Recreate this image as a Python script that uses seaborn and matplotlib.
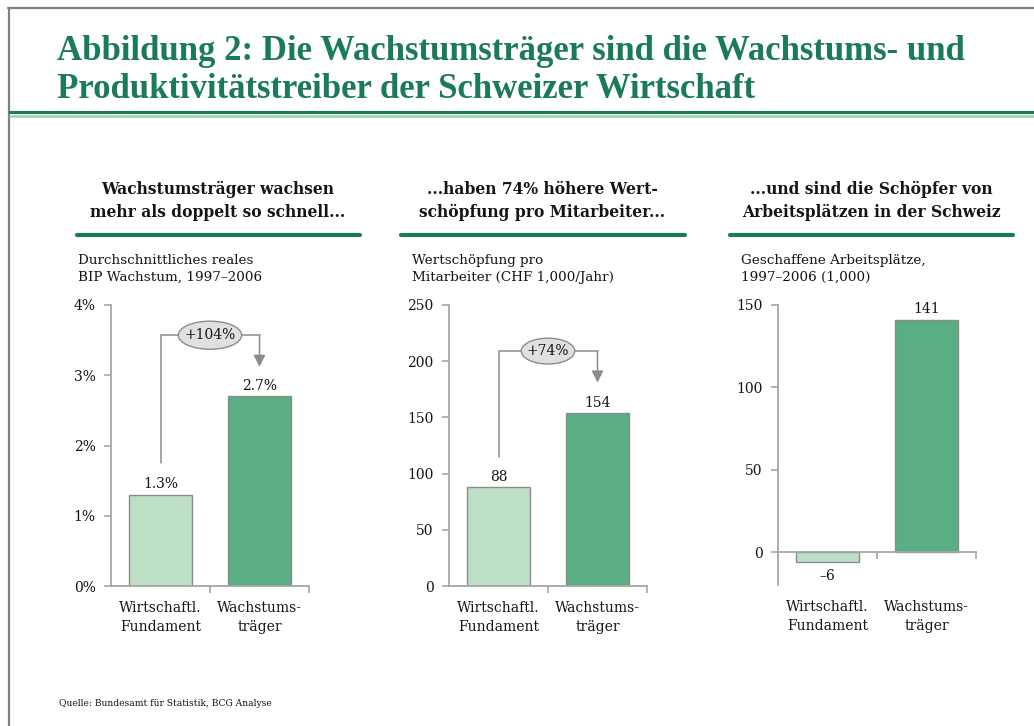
import matplotlib
matplotlib.use("Agg")
import matplotlib.pyplot as plt
from matplotlib.lines import Line2D
from matplotlib.patches import Ellipse
import pandas as pd
import seaborn as sns

# data
categories = ["Wirtschaftl.\nFundament", "Wachstums-\nträger"]
growth = [1.3, 2.7]
value_added = [88, 154]
jobs = [-6, 141]
growth_labels = ["1.3%", "2.7%"]
value_labels = ["88", "154"]
jobs_labels = ["\u20136", "141"]

headers = ["Wachstumsträger wachsen\nmehr als doppelt so schnell...",
           "...haben 74% höhere Wert-\nschöpfung pro Mitarbeiter...",
           "...und sind die Schöpfer von\nArbeitsplätzen in der Schweiz"]
subtitles = ["Durchschnittliches reales\nBIP Wachstum, 1997\u20132006",
             "Wertschöpfung pro\nMitarbeiter (CHF 1,000/Jahr)",
             "Geschaffene Arbeitsplätze,\n1997\u20132006 (1,000)"]
title_lines = ["Abbildung 2: Die Wachstumsträger sind die Wachstums- und",
               "Produktivitätstreiber der Schweizer Wirtschaft"]
source = "Quelle: Bundesamt für Statistik, BCG Analyse"

GREEN = "#1b7a57"
LIGHT = "#bddfc5"
DARK = "#5aae84"
AXC = "#a6a6a6"
TXT = "#151515"

sns.set_style("white")
plt.rcParams["font.family"] = ["DejaVu Serif", "Liberation Serif"]
plt.rcParams["text.color"] = TXT
plt.rcParams["ytick.labelcolor"] = TXT

W, H = 1034, 726
fig = plt.figure(figsize=(W / 100, H / 100), dpi=100)


def fx(x):
    return x / W


def fy(y):
    return 1 - y / H


# frame + title rule
fig.add_artist(Line2D([fx(8.5), fx(8.5)], [fy(8), fy(726)], color="#808080", lw=1.6))
fig.add_artist(Line2D([fx(8), fx(1034)], [fy(8), fy(8)], color="#808080", lw=1.6))
fig.add_artist(Line2D([fx(10), fx(1034)], [fy(112), fy(112)], color=GREEN, lw=2.2))
fig.add_artist(Line2D([fx(10), fx(1034)], [fy(115.5), fy(115.5)], color="#9fd0b0", lw=1.8))

for line, yy in zip(title_lines, [52, 90]):
    fig.text(fx(57), fy(yy), line, color=GREEN, fontsize=25, fontweight="bold",
             family="Liberation Serif", ha="left", va="center")
fig.text(fx(59), fy(703), source, fontsize=6.6, ha="left", va="center")

panels = [
    dict(vals=growth, labels=growth_labels, ylim=(0, 4), ticks=[0, 1, 2, 3, 4],
         fmt=lambda v: f"{v:g}%", x0=111, top=305, bot=586, hc=218, ul=(77, 360), sx=78,
         br=dict(y0=1.75, yh=3.57, tip=3.12, txt="+104%", ew=0.64, eh=0.40)),
    dict(vals=value_added, labels=value_labels, ylim=(0, 250), ticks=[0, 50, 100, 150, 200, 250],
         fmt=lambda v: f"{v:g}", x0=449, top=305, bot=586, hc=542, ul=(401, 685), sx=412,
         br=dict(y0=115, yh=209, tip=181, txt="+74%", ew=0.54, eh=23)),
    dict(vals=jobs, labels=jobs_labels, ylim=(-20, 150), ticks=[0, 50, 100, 150],
         fmt=lambda v: f"{v:g}", x0=778, top=305, bot=585, hc=871, ul=(730, 1013), sx=741,
         br=None),
]

for i, p in enumerate(panels):
    ax = fig.add_axes([fx(p["x0"]), fy(p["bot"]), fx(198), (p["bot"] - p["top"]) / H])
    df = pd.DataFrame({"cat": categories, "val": p["vals"]})
    sns.barplot(data=df, x="cat", y="val", hue="cat", palette=[LIGHT, DARK], saturation=1,
                width=0.63, edgecolor="#8c8c8c", linewidth=1.0, legend=False, ax=ax)
    ax.set_xlim(-0.5, 1.5)
    ax.set_ylim(*p["ylim"])
    ax.set_xlabel("")
    ax.set_ylabel("")
    for s in ["top", "right"]:
        ax.spines[s].set_visible(False)
    for s in ["left", "bottom"]:
        ax.spines[s].set_color(AXC)
        ax.spines[s].set_linewidth(1.3)
    ax.spines["bottom"].set_position(("data", 0))
    ax.set_yticks(p["ticks"])
    ax.set_yticklabels([p["fmt"](t) for t in p["ticks"]], fontsize=10)
    ax.tick_params(axis="y", length=5, color=AXC, width=1.2, left=True, pad=6)
    ax.set_xticks([0.5, 1.5], minor=True)
    ax.tick_params(axis="x", which="minor", length=5, color=AXC, width=1.2, bottom=True, direction="out")
    ax.tick_params(axis="x", which="major", length=0, labelbottom=False)
    # category labels below the axes
    for j, c in enumerate(categories):
        ax.annotate(c, xy=(j, 0), xycoords=("data", "axes fraction"), xytext=(0, -11),
                    textcoords="offset points", ha="center", va="top", fontsize=10,
                    linespacing=1.4, annotation_clip=False)
    # value labels
    rng = p["ylim"][1] - p["ylim"][0]
    for j, (v, lab) in enumerate(zip(p["vals"], p["labels"])):
        if v >= 0:
            ax.text(j, v + rng * 0.012, lab, ha="center", va="bottom", fontsize=10)
        else:
            ax.text(j, v - rng * 0.025, lab, ha="center", va="top", fontsize=10)
    # bracket with ellipse
    b = p["br"]
    if b:
        ax.plot([0, 0, 1], [b["y0"], b["yh"], b["yh"]], color="#8c8c8c", lw=1.1,
                solid_joinstyle="miter")
        ax.annotate("", xy=(1, b["tip"]), xytext=(1, b["yh"]),
                    arrowprops=dict(arrowstyle="-|>,head_length=0.7,head_width=0.35",
                                    color="#8c8c8c", lw=1.1, shrinkA=0, shrinkB=0))
        ax.add_patch(Ellipse((0.5, b["yh"]), b["ew"], b["eh"], facecolor="#e0e0e0",
                             edgecolor="#8c8c8c", lw=1.0, zorder=5))
        ax.text(0.5, b["yh"], b["txt"], ha="center", va="center", fontsize=10, zorder=6)

    # header, underline, subtitle
    fig.text(fx(p["hc"]), fy(201), headers[i], ha="center", va="center", fontsize=11.2,
             fontweight="bold", linespacing=1.4)
    fig.add_artist(Line2D([fx(p["ul"][0]), fx(p["ul"][1])], [fy(235), fy(235)],
                          color=GREEN, lw=3))
    fig.text(fx(p["sx"]), fy(269), subtitles[i], ha="left", va="center", fontsize=9.7,
             linespacing=1.4)

fig.savefig("out.png", dpi=100)
